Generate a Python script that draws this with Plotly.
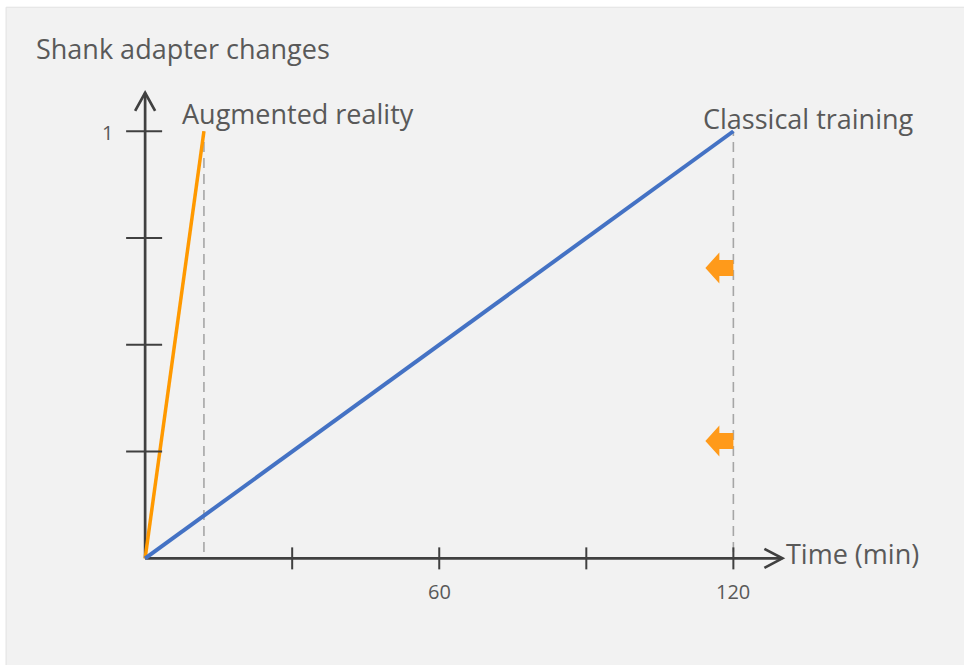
import plotly.graph_objects as go

# Time needed to reach one shank adapter change, per training method
methods = ["Augmented reality", "Classical training"]
minutes_to_change = [12, 120]
adapter_changes = [1, 1]
method_colors = ["#FF9900", "#4472C4"]
method_widths = [3.5, 4]

# Axis ticks
x_ticks = [30, 60, 90, 120]
x_tick_labels = ["", "60", "", "120"]
y_ticks = [0.25, 0.5, 0.75, 1]
y_tick_labels = ["", "", "", "1"]

# Levels of the orange "reduction" markers on the classical-training line
arrow_levels = [0.68, 0.275]

X_MAX = 130          # end of the drawn time axis
Y_MAX = 1.09         # end of the drawn change axis
X_RANGE = [-9, 134]  # view window, leaves room for ticks and arrow heads
Y_RANGE = [-0.06, 1.12]
PX_PER_MIN = 4.9
PX_PER_CHANGE = 427
ORIGIN = (145, 558)  # page position of (0, 0)

TEXT = "#595959"
AXIS = "#404040"
FONT = "Open Sans"

W, H = 964, 665
left = ORIGIN[0] + X_RANGE[0] * PX_PER_MIN
right = W - (ORIGIN[0] + X_RANGE[1] * PX_PER_MIN)
top = ORIGIN[1] - Y_RANGE[1] * PX_PER_CHANGE
bottom = H - (ORIGIN[1] - Y_RANGE[0] * PX_PER_CHANGE)
plot_w = W - left - right
plot_h = H - top - bottom


def px_to_paper(px, py):
    return (px - left) / plot_w, (H - bottom - py) / plot_h


fig = go.Figure()

# dashed guides from each end point down to the time axis
for m, c in zip(minutes_to_change, adapter_changes):
    fig.add_trace(go.Scatter(
        x=[m, m], y=[0.015, c], mode="lines",
        line=dict(color="#A6A6A6", width=1.6, dash="10px,6px"),
        hoverinfo="skip", showlegend=False))

# method lines from the origin
for name, m, c, col, lw in zip(methods, minutes_to_change, adapter_changes,
                               method_colors, method_widths):
    fig.add_trace(go.Scatter(
        x=[0, m], y=[0, c], mode="lines", name=name,
        line=dict(color=col, width=lw), showlegend=False))

shapes = []
# page panel
px0, py1 = px_to_paper(6, 7)
px1, py0 = px_to_paper(W + 20, H + 20)
shapes.append(dict(type="rect", xref="paper", yref="paper",
                   x0=px0, x1=px1, y0=py0, y1=py1,
                   fillcolor="#F2F2F2", line=dict(color="#E2E2E2", width=1),
                   layer="below"))
# axis lines
shapes.append(dict(type="line", xref="x", yref="y", x0=0, y0=0, x1=X_MAX, y1=0,
                   line=dict(color=AXIS, width=2.7), layer="below"))
shapes.append(dict(type="line", xref="x", yref="y", x0=0, y0=0, x1=0, y1=Y_MAX,
                   line=dict(color=AXIS, width=2.7), layer="below"))
# open arrow heads at the axis ends
shapes.append(dict(type="path", xref="x", yref="y", xsizemode="pixel", ysizemode="pixel",
                   xanchor=X_MAX, yanchor=0, path="M -18,9.5 L 0,0 L -18,-9.5",
                   line=dict(color=AXIS, width=2.7)))
shapes.append(dict(type="path", xref="x", yref="y", xsizemode="pixel", ysizemode="pixel",
                   xanchor=0, yanchor=Y_MAX, path="M -10,-18 L 0,0 L 10,-18",
                   line=dict(color=AXIS, width=2.7)))
# tick marks crossing the axes
for t in x_ticks:
    shapes.append(dict(type="line", xref="x", yref="y", ysizemode="pixel", yanchor=0,
                       x0=t, x1=t, y0=-11, y1=11,
                       line=dict(color=AXIS, width=2)))
for t in y_ticks:
    shapes.append(dict(type="line", xref="x", yref="y", xsizemode="pixel", xanchor=0,
                       x0=-19, x1=17, y0=t, y1=t,
                       line=dict(color=AXIS, width=2)))
# block arrows pointing left, tip offset from the classical-training guide
for lvl in arrow_levels:
    shapes.append(dict(type="path", xref="x", yref="y", xsizemode="pixel", ysizemode="pixel",
                       xanchor=minutes_to_change[1], yanchor=lvl,
                       path="M -28,0 L -14,15.5 L -14,8 L 0,8 L 0,-8 L -14,-8 L -14,-15.5 Z",
                       fillcolor="#FF9A1A", line=dict(width=0), layer="above"))

tx, ty = px_to_paper(34, 48)
annotations = [
    dict(text="Shank adapter changes", xref="paper", yref="paper",
         x=tx, y=ty, xanchor="left", yanchor="middle",
         showarrow=False, font=dict(size=27, color=TEXT, family=FONT)),
    dict(text="Time (min)", xref="x", yref="y", x=X_MAX, y=0,
         xanchor="left", yanchor="middle", xshift=2, yshift=5,
         showarrow=False, font=dict(size=27, color=TEXT, family=FONT)),
]
label_shift = [-24, -32]
label_yshift = [18, 13]
for name, m, c, dx, dy in zip(methods, minutes_to_change, adapter_changes, label_shift, label_yshift):
    annotations.append(dict(text=name, xref="x", yref="y", x=m, y=c,
                            xanchor="left", yanchor="middle", xshift=dx, yshift=dy,
                            showarrow=False, font=dict(size=27, color=TEXT, family=FONT)))
# tick labels
for t, lab in zip(x_ticks, x_tick_labels):
    if lab:
        annotations.append(dict(text=lab, xref="x", yref="y", x=t, y=0,
                                xanchor="center", yanchor="middle", yshift=-33,
                                showarrow=False, font=dict(size=20, color=TEXT, family=FONT)))
for t, lab in zip(y_ticks, y_tick_labels):
    if lab:
        annotations.append(dict(text=lab, xref="x", yref="y", x=0, y=t,
                                xanchor="right", yanchor="middle", xshift=-30, yshift=-1,
                                showarrow=False, font=dict(size=20, color=TEXT, family=FONT)))

fig.update_layout(
    width=W, height=H,
    margin=dict(l=left, r=right, t=top, b=bottom, pad=0),
    paper_bgcolor="#FFFFFF", plot_bgcolor="rgba(0,0,0,0)",
    shapes=shapes, annotations=annotations,
    xaxis=dict(range=X_RANGE, visible=False, fixedrange=True),
    yaxis=dict(range=Y_RANGE, visible=False, fixedrange=True),
    showlegend=False,
)

fig.write_html("out.html", include_plotlyjs=True, config=dict(displayModeBar=False))
